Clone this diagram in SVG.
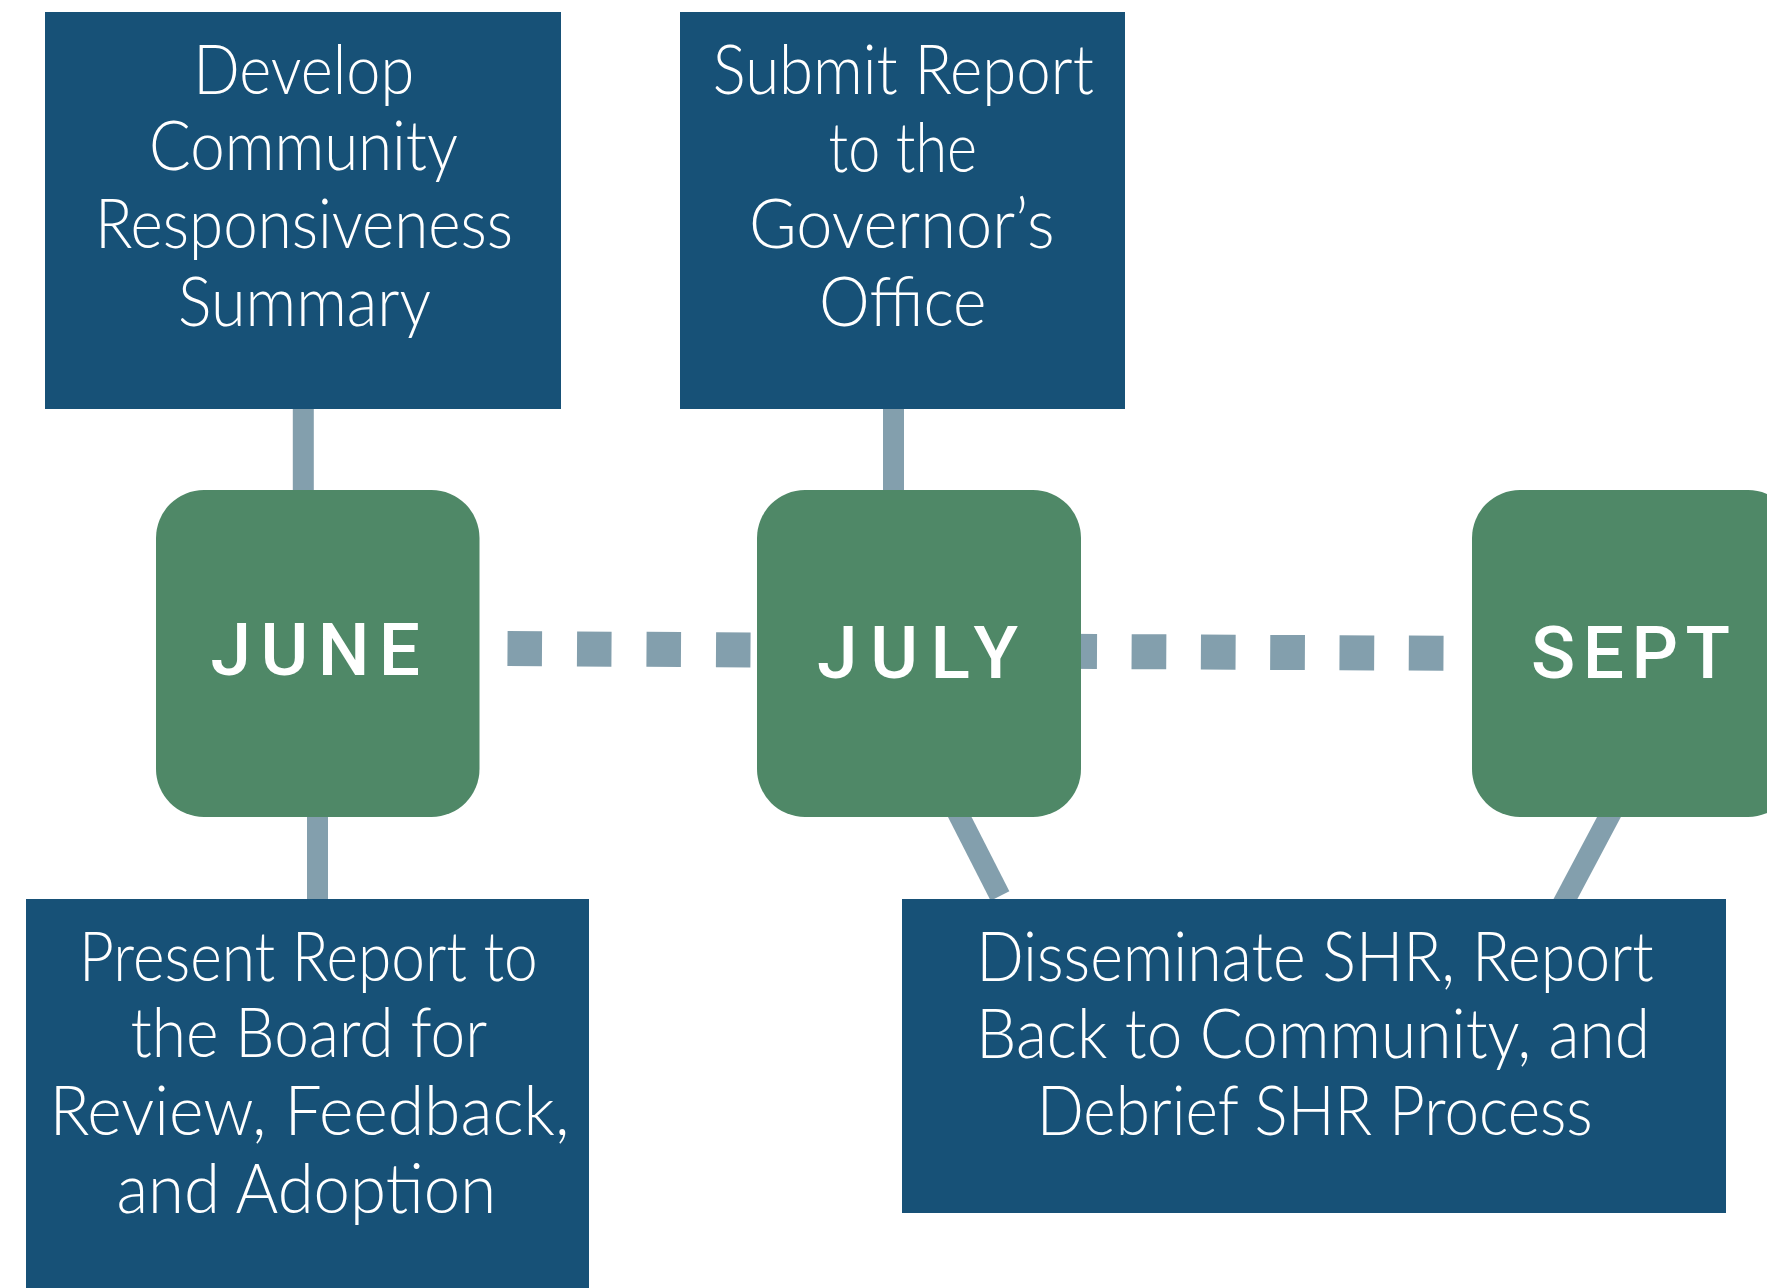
<svg xmlns="http://www.w3.org/2000/svg" width="1767" height="1288" viewBox="0 0 1767 1288">
<style>
.task{fill:#175177}
.month{fill:#4F8867}
.tt{font-family:Lato,"Liberation Sans",Arial,sans-serif;font-size:68px;font-weight:300;fill:#ffffff;text-anchor:middle}
.mt{font-family:Roboto,"Liberation Sans",Arial,sans-serif;font-size:73px;font-weight:500;fill:#ffffff;text-anchor:middle}
.solid{stroke:#839FAD;stroke-width:21;fill:none;stroke-linecap:butt}
.dots{stroke:#839FAD;stroke-width:35;fill:none;stroke-linecap:butt}
</style>
<rect width="1767" height="1288" fill="#ffffff"/>
<g id="connectors">
  <line class="solid" x1="303.3" y1="400" x2="303.3" y2="500"/>
  <line class="solid" x1="893.5" y1="400" x2="893.5" y2="500"/>
  <line class="solid" x1="317.5" y1="810" x2="317.5" y2="905"/>
  <line class="solid" x1="946" y1="790" x2="1000" y2="896"/>
  <line class="solid" x1="1623.3" y1="790" x2="1559.6" y2="910"/>
  <line class="dots" x1="507.5" y1="648.5" x2="750.5" y2="650" stroke-dasharray="34.5 35"/>
  <line class="dots" x1="1062.3" y1="651.3" x2="1443.8" y2="653.3" stroke-dasharray="34.7 34.6"/>
</g>
<g id="task-develop">
  <rect class="task" x="45" y="12" width="516" height="397"/>
  <text class="tt" x="303.7" y="94.3" textLength="221" lengthAdjust="spacingAndGlyphs">Develop</text>
  <text class="tt" x="303.5" y="170" textLength="309" lengthAdjust="spacingAndGlyphs">Community</text>
  <text class="tt" x="304" y="248.3" textLength="418" lengthAdjust="spacingAndGlyphs">Responsiveness</text>
  <text class="tt" x="304.5" y="325.7" textLength="253" lengthAdjust="spacingAndGlyphs">Summary</text>
</g>
<g id="task-submit">
  <rect class="task" x="680" y="12" width="445" height="397"/>
  <text class="tt" x="903.3" y="94.3" textLength="381" lengthAdjust="spacingAndGlyphs">Submit Report</text>
  <text class="tt" x="902.8" y="171.7" textLength="148.5" lengthAdjust="spacingAndGlyphs">to the</text>
  <text class="tt" x="901.8" y="248.3" textLength="305.5" lengthAdjust="spacingAndGlyphs">Governor’s</text>
  <text class="tt" x="902.7" y="326" textLength="167.6" lengthAdjust="spacingAndGlyphs">Office</text>
</g>
<g id="month-june">
  <rect class="month" x="156" y="490" width="323.5" height="327" rx="48" ry="48"/>
  <text class="mt" x="315.3" y="675" textLength="209.5" lengthAdjust="spacing">JUNE</text>
</g>
<g id="month-july">
  <rect class="month" x="757" y="490" width="324" height="327" rx="48" ry="48"/>
  <text class="mt" x="917.6" y="677.7" textLength="201" lengthAdjust="spacing">JULY</text>
</g>
<g id="month-sept">
  <rect class="month" x="1472" y="490" width="324" height="327" rx="48" ry="48"/>
  <text class="mt" x="1630.5" y="677.7" textLength="199" lengthAdjust="spacing">SEPT</text>
</g>
<g id="task-present">
  <rect class="task" x="26" y="899" width="563" height="400"/>
  <text class="tt" x="308.4" y="980.7" textLength="458.7" lengthAdjust="spacingAndGlyphs">Present Report to</text>
  <text class="tt" x="308.8" y="1057.3" textLength="356.7" lengthAdjust="spacingAndGlyphs">the Board for</text>
  <text class="tt" x="309.4" y="1135" textLength="520" lengthAdjust="spacingAndGlyphs">Review, Feedback,</text>
  <text class="tt" x="306.3" y="1212.7" textLength="379.6" lengthAdjust="spacingAndGlyphs">and Adoption</text>
</g>
<g id="task-disseminate">
  <rect class="task" x="902" y="899" width="824" height="314"/>
  <text class="tt" x="1315" y="980.7" textLength="677.6" lengthAdjust="spacingAndGlyphs">Disseminate SHR, Report</text>
  <text class="tt" x="1313" y="1058.3" textLength="674" lengthAdjust="spacingAndGlyphs">Back to Community, and</text>
  <text class="tt" x="1314.7" y="1135" textLength="556" lengthAdjust="spacingAndGlyphs">Debrief SHR Process</text>
</g>
</svg>
